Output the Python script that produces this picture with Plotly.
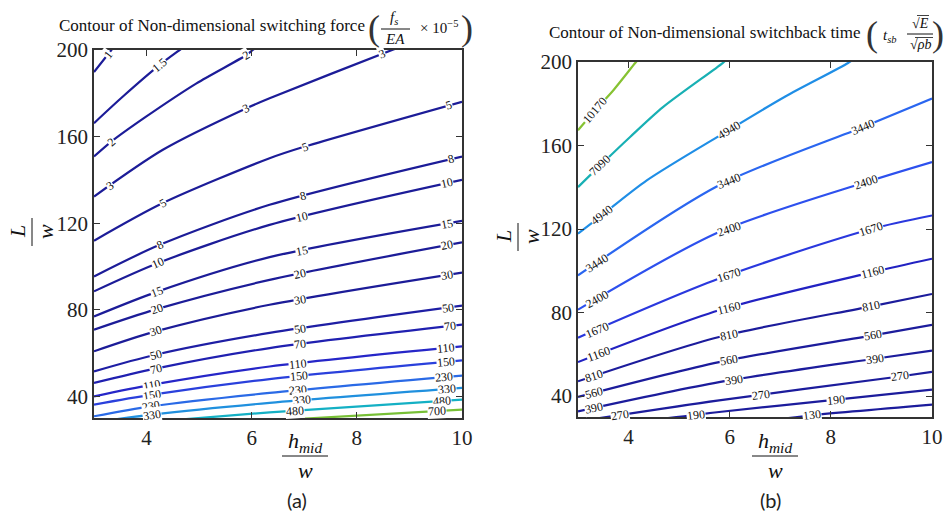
import numpy as np
import plotly.graph_objects as go

# ---------------- Panel (a): non-dimensional switching force ----------------
A_LEVELS = ["1", "1.5", "2", "3", "5", "8", "10", "15", "20", "30",
            "50", "70", "110", "150", "230", "330", "480", "700"]
A_X = [
    [3, 3.33, 3.45],
    [3, 3.55, 4.25, 4.63, 4.8],
    [3, 3.33, 3.99, 4.95, 5.90, 6.02, 6.15],
    [3, 4.31, 5.90, 6.34, 8.67, 9.0],
    [3, 4.31, 6.34, 7.01, 10],
    [3, 4.25, 6.34, 10],
    [3, 4.22, 6.34, 10],
    [3, 4.22, 6.34, 10],
    [3, 4.19, 6.34, 10],
    [3, 4.17, 6.34, 10],
    [3, 4.17, 6.34, 10],
    [3, 4.17, 6.34, 10],
    [3, 4.11, 6.34, 10],
    [3, 4.11, 6.34, 10],
    [3, 4.09, 6.34, 10],
    [3, 4.11, 6.34, 10],
    [4.5, 6.34, 10],
    [6.5, 10],
]
A_Y = [
    [189.8, 200, 203.7],
    [166.2, 178.5, 193.1, 200, 203],
    [150.8, 157.7, 169.2, 184.6, 197.7, 200, 202.5],
    [132.3, 153.9, 173.1, 177.7, 200, 203],
    [111.9, 129.3, 150.0, 155.4, 176.1],
    [95.4, 110.0, 128.5, 150.8],
    [88.5, 101.6, 119.2, 140.0],
    [76.9, 88.5, 104.3, 121.1],
    [70.8, 80.3, 93.8, 111.1],
    [60.8, 70.0, 82.3, 97.2],
    [51.5, 59.2, 69.3, 81.9],
    [46.2, 52.8, 62.3, 73.1],
    [40.0, 45.4, 53.8, 63.1],
    [36.2, 40.8, 48.0, 56.6],
    [30.8, 35.4, 41.6, 49.6],
    [28.0, 31.6, 37.0, 43.9],
    [29.0, 32.6, 38.5],
    [29.0, 33.9],
]
A_LABEL_X = [
    [3.26], [4.25], [3.33, 5.90], [3.30, 5.90, 8.48], [4.31, 7.01, 9.75],
    [4.25, 6.97, 9.79], [4.21, 6.95, 9.71], [4.19, 6.95, 9.71], [4.19, 6.91, 9.71],
    [4.17, 6.91, 9.71], [4.17, 6.91, 9.73], [4.17, 6.91, 9.77], [4.11, 6.88, 9.69],
    [4.11, 6.90, 9.69], [4.09, 6.88, 9.66], [4.11, 6.95, 9.71], [6.82, 9.61], [9.52],
]
A_COLORS = ["#1c1c98"] * 10 + ["#1e1ea4", "#2020b0", "#2626c8", "#2a40dc",
                               "#2a6ae6", "#2090de", "#14b0c4", "#78c036"]

# ---------------- Panel (b): non-dimensional switchback time ----------------
B_LEVELS = ["10170", "7090", "4940", "3440", "2400", "1670", "1160",
            "810", "560", "390", "270", "190", "130"]
B_X = [
    [3, 3.34, 3.70, 4.13, 4.2],
    [3, 3.44, 4.03, 4.68, 5.86, 5.95],
    [3, 3.47, 4.36, 5.90, 7.10, 8.34, 8.45],
    [3, 5.79, 8.64, 10],
    [3, 5.79, 8.70, 10],
    [3, 5.79, 8.80, 10],
    [3, 5.79, 8.83, 10],
    [3, 5.79, 8.80, 10],
    [3, 5.79, 8.83, 10],
    [3, 5.79, 8.87, 10],
    [3, 5.79, 9.36, 10],
    [4.42, 5.79, 8.11, 10],
    [6.97, 7.62, 10],
]
B_Y = [
    [167.3, 176.9, 186.5, 199.5, 201.5],
    [140.1, 150.5, 164.1, 178.4, 199.5, 201.5],
    [117.8, 126.6, 143.3, 166.2, 183.5, 199.5, 201.5],
    [97.8, 141.0, 168.9, 182.5],
    [81.4, 118.6, 142.5, 152.1],
    [68.0, 96.3, 120.0, 126.5],
    [56.3, 81.1, 99.4, 105.8],
    [47.1, 68.3, 83.0, 88.9],
    [39.6, 56.3, 69.1, 74.1],
    [32.7, 46.7, 57.9, 61.8],
    [27.9, 38.0, 49.4, 51.6],
    [28.4, 32.4, 38.3, 43.1],
    [28.9, 30.8, 35.9],
]
B_LABEL_X = [
    [3.34], [3.44], [3.47, 5.99], [3.38, 5.99, 8.64], [3.38, 5.99, 8.70],
    [3.38, 5.99, 8.80], [3.41, 5.99, 8.83], [3.31, 5.99, 8.80], [3.31, 5.99, 8.83],
    [3.31, 6.09, 8.87], [3.83, 6.61, 9.36], [5.34, 8.11], [7.62],
]
B_COLORS = ["#86c232", "#18b0b4", "#1f8ee6", "#2a66f0", "#2d50ee", "#2a38de",
            "#2222c2"] + ["#1c1c9c"] * 6

X_TICKS = [4, 6, 8, 10]
Y_TICKS = [40, 80, 120, 160, 200]
X_RANGE = [3, 10]
Y_RANGE = [30, 200]

W, H = 945, 521
SERIF = "Liberation Serif"

# subplot pixel boxes: (left, right, top, bottom)
BOX_A = (94, 462, 50, 418)
BOX_B = (578, 932, 62, 417)


def P(px, py):
    return px / W, 1 - py / H


fig = go.Figure()
annotations = []
shapes = []


def add_panel(levels, xs, ys, label_xs, colors, box, xref, yref):
    l, r, t, b = box
    ppx = (r - l) / (X_RANGE[1] - X_RANGE[0])
    ppy = (b - t) / (Y_RANGE[1] - Y_RANGE[0])
    for lev, x, y, lx, c in zip(levels, xs, ys, label_xs, colors):
        fig.add_trace(go.Scatter(x=x, y=y, mode="lines", xaxis=xref, yaxis=yref,
                                 line=dict(color=c, width=2.2, shape="spline", smoothing=0.8),
                                 hoverinfo="skip", showlegend=False))
        xa_ = np.array(x, float)
        ya_ = np.array(y, float)
        for px in lx:
            py = float(np.interp(px, xa_, ya_))
            i = int(np.clip(np.searchsorted(xa_, px), 1, len(xa_) - 1))
            slope = (ya_[i] - ya_[i - 1]) / (xa_[i] - xa_[i - 1])
            ang = -np.degrees(np.arctan(slope * ppy / ppx))
            annotations.append(dict(x=px, y=py, xref=xref, yref=yref, text=lev,
                                    showarrow=False, textangle=ang,
                                    font=dict(family=SERIF, size=12, color="#111"),
                                    bgcolor="white", borderpad=0))


add_panel(A_LEVELS, A_X, A_Y, A_LABEL_X, A_COLORS, BOX_A, "x", "y")
add_panel(B_LEVELS, B_X, B_Y, B_LABEL_X, B_COLORS, BOX_B, "x2", "y2")

axis_common = dict(showgrid=False, zeroline=False, showline=True, automargin=False,
                   linecolor="#333", linewidth=1.6, mirror="ticks", ticks="inside",
                   ticklen=6, tickwidth=1.4, tickcolor="#333",
                   tickfont=dict(family=SERIF, size=21, color="#222"))


def dom_x(box):
    return [box[0] / W, box[1] / W]


def dom_y(box):
    return [1 - box[3] / H, 1 - box[2] / H]


fig.update_layout(
    width=W, height=H, margin=dict(l=0, r=0, t=0, b=0, pad=0, autoexpand=False),
    paper_bgcolor="white", plot_bgcolor="white",
    xaxis=dict(axis_common, range=X_RANGE, domain=dom_x(BOX_A), tickvals=X_TICKS, anchor="y"),
    yaxis=dict(axis_common, range=Y_RANGE, domain=dom_y(BOX_A), tickvals=Y_TICKS, anchor="x"),
    xaxis2=dict(axis_common, range=X_RANGE, domain=dom_x(BOX_B), tickvals=X_TICKS, anchor="y2"),
    yaxis2=dict(axis_common, range=Y_RANGE, domain=dom_y(BOX_B), tickvals=Y_TICKS, anchor="x2"),
)


def text(px, py, s, size, family=SERIF, angle=0, xanchor="center", color="#111"):
    x, y = P(px, py)
    annotations.append(dict(x=x, y=y, xref="paper", yref="paper", text=s, showarrow=False,
                            xanchor=xanchor, yanchor="middle", textangle=angle,
                            font=dict(family=family, size=size, color=color)))


def bar(x0, x1, y, width=1):
    a0, b0 = P(x0, y)
    a1, _ = P(x1, y)
    shapes.append(dict(type="line", xref="paper", yref="paper", x0=a0, x1=a1, y0=b0, y1=b0,
                       line=dict(color="#111", width=width)))


def vbar(x, y0, y1):
    a, b0 = P(x, y0)
    _, b1 = P(x, y1)
    shapes.append(dict(type="line", xref="paper", yref="paper", x0=a, x1=a, y0=b0, y1=b1,
                       line=dict(color="#111", width=1)))


# Titles
text(57, 25, "Contour of Non-dimensional switching force", 17, xanchor="left")
text(374, 28, "(", 36, color="#333")
text(394, 18, "<i>f<sub>s</sub></i>", 15)
bar(381, 410, 29)
text(395, 39, "<i>EA</i>", 15)
text(439, 27, "× 10<sup>−5</sup>", 15)
text(467, 28, ")", 36, color="#333")

text(547, 33, "Contour of Non-dimensional switchback time", 17, xanchor="left")
text(872, 34, "(", 36, color="#333")
text(890, 36, "<i>t<sub>sb</sub></i>", 15)
text(920, 23, "√<i>E</i>", 14)
bar(917, 929, 15.5, 0.8)
bar(907, 933, 34)
text(920, 45, "√<i>ρb</i>", 14)
bar(915, 933, 37.5, 0.8)
text(938, 34, ")", 36, color="#333")

# Axis titles
for cx in (305, 775):
    text(cx, 442, "<i>h<sub>mid</sub></i>", 22)
    bar(cx - 23, cx + 23, 456)
    text(cx, 470, "<i>w</i>", 22)
for cx, cy in ((32, 232), (518, 237)):
    text(cx - 14, cy, "<i>L</i>", 22, angle=-90)
    vbar(cx, cy - 14, cy + 14)
    text(cx + 14, cy, "<i>w</i>", 22, angle=-90)

# Panel captions
text(297, 500, "(a)", 20, family="Lato", color="#222")
text(770, 500, "(b)", 20, family="Lato", color="#222")

fig.update_layout(annotations=annotations, shapes=shapes)

# make the figure fill the 945x521 window exactly (no body margin, no scrollbars)
POST = ("document.documentElement.style.overflow='hidden';"
        "document.body.style.overflow='hidden';"
        "document.body.style.margin='0';"
        "document.body.style.padding='0';")
fig.write_html("out.html", post_script=POST, config={"displayModeBar": False})
